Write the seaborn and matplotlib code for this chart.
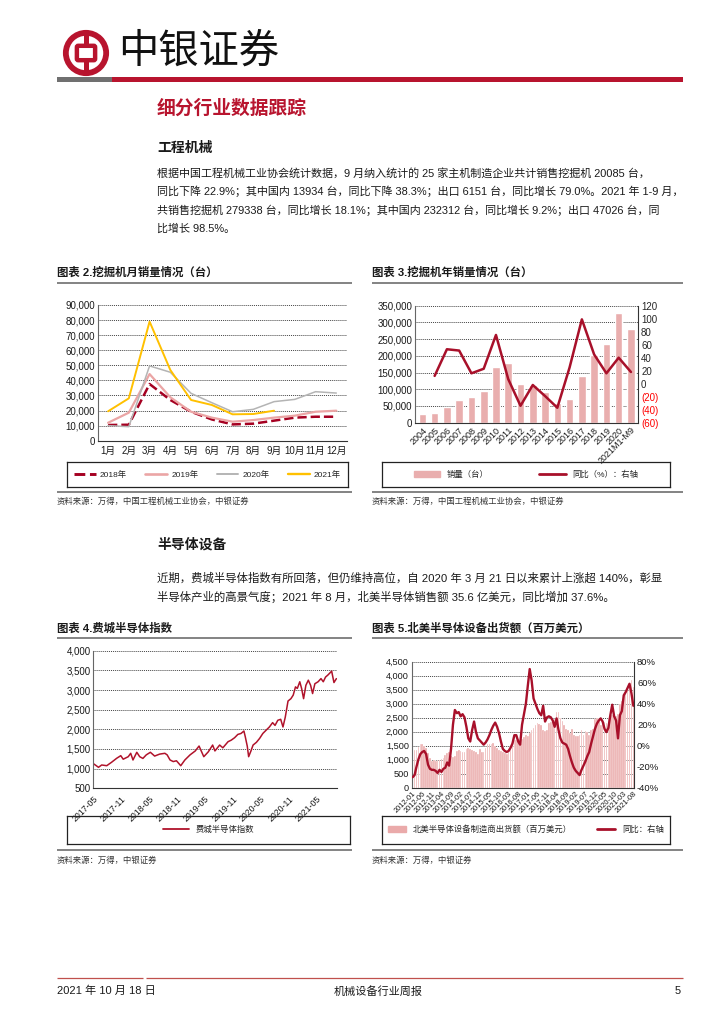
import numpy as np
import pandas as pd
import matplotlib
matplotlib.use('Agg')
import matplotlib.pyplot as plt
import seaborn as sns
from matplotlib.patches import Circle, FancyBboxPatch, Rectangle, Patch
from matplotlib.lines import Line2D
from matplotlib.ticker import FuncFormatter

# ---------------- data ----------------
months2 = ['1月', '2月', '3月', '4月', '5月', '6月', '7月', '8月', '9月', '10月', '11月', '12月']
sales2018 = [10400, 10600, 37600, 27000, 19200, 14100, 10800, 11300, 13300, 15300, 15900, 15900]
sales2019 = [11900, 18600, 44200, 28800, 19200, 15300, 12600, 13700, 15300, 16600, 19200, 19900]
sales2020 = [10000, 9300, 49600, 45400, 31400, 25200, 19200, 20800, 25900, 27400, 32500, 31600]
sales2021 = [19500, 28100, 79000, 46900, 27000, 23700, 17500, 17700, 19900]
years2 = ['2018年', '2019年', '2020年', '2021年']

years3 = ['2004', '2005', '2006', '2007', '2008', '2009', '2010', '2011', '2012', '2013',
          '2014', '2015', '2016', '2017', '2018', '2019', '2020', '2021M1-M9']
sales3 = [26000, 30000, 46000, 67000, 78000, 96000, 168000, 180000, 116000, 114000,
          93000, 58000, 72000, 140000, 203000, 236000, 327000, 279000]
yoy3_years = years3[1:]
yoy3 = [12, 53, 51, 16, 23, 75, 7, -34, -2, -19, -37, 25, 99, 45, 16, 40, 18]
ticks3_left = [0, 50000, 100000, 150000, 200000, 250000, 300000, 350000]
ticks3_right = [-60, -40, -20, 0, 20, 40, 60, 80, 100, 120]

dates4 = ['2017-05-05', '2017-06-04', '2017-06-25', '2017-07-28', '2017-08-28', '2017-10-01',
          '2017-10-28', '2017-11-13', '2017-12-16', '2018-01-01', '2018-01-16', '2018-02-10',
          '2018-03-01', '2018-03-22', '2018-04-13', '2018-05-10', '2018-06-07', '2018-07-10',
          '2018-08-13', '2018-08-28', '2018-09-16', '2018-10-07', '2018-10-28', '2018-11-25',
          '2018-12-22', '2019-01-25', '2019-02-28', '2019-03-25', '2019-04-25', '2019-05-25',
          '2019-06-22', '2019-07-07', '2019-08-07', '2019-08-28', '2019-10-01', '2019-10-22',
          '2019-11-13', '2019-12-04', '2019-12-25', '2020-01-13', '2020-01-22', '2020-02-04',
          '2020-02-13', '2020-02-28', '2020-03-13', '2020-04-04', '2020-04-25', '2020-05-16',
          '2020-06-07', '2020-06-28', '2020-07-19', '2020-08-04', '2020-08-22', '2020-09-10',
          '2020-09-25', '2020-10-10', '2020-10-28', '2020-11-16', '2020-12-01', '2020-12-16',
          '2020-12-28', '2021-01-13', '2021-01-25', '2021-02-07', '2021-02-22', '2021-03-10',
          '2021-03-25', '2021-04-07', '2021-04-22', '2021-05-13', '2021-06-01', '2021-06-16',
          '2021-07-01', '2021-07-16', '2021-08-10', '2021-08-25', '2021-09-10']
sox4 = [1118, 1034, 1093, 1075, 1160, 1263, 1330, 1240, 1304, 1390, 1220, 1416,
        1304, 1260, 1350, 1416, 1320, 1370, 1390, 1350, 1220, 1180, 1200, 1075,
        1220, 1350, 1450, 1575, 1304, 1430, 1600, 1450, 1600, 1530, 1685, 1725,
        1787, 1870, 1895, 1957, 1810, 1570, 1304, 1450, 1600, 1670, 1770, 1895,
        1980, 2060, 2170, 2100, 2230, 2255, 2060, 2310, 2720, 2780, 2870, 3080,
        3040, 3210, 3040, 2780, 3120, 3250, 3120, 2910, 3160, 3210, 3290, 3210,
        3330, 3380, 3480, 3190, 3290]
ticks4 = ['2017-05', '2017-11', '2018-05', '2018-11', '2019-05', '2019-11', '2020-05', '2020-11', '2021-05']

months5 = [p.strftime('%Y-%m') for p in pd.period_range('2012-01', '2021-08', freq='M')]
ship5 = [1300, 1350, 1330, 1450, 1550, 1560, 1500, 1420, 1250, 1050, 950, 1000,
         960, 980, 1000, 1010, 1050, 1180, 1240, 1260, 1150, 1100, 1150, 1300,
         1360, 1300, 1260, 1290, 1400, 1410, 1380, 1340, 1300, 1260, 1220, 1380,
         1290, 1280, 1420, 1560, 1550, 1560, 1580, 1500, 1420, 1350, 1300, 1280,
         1250, 1210, 1280, 1500, 1650, 1720, 1700, 1750, 1600, 1750, 1800, 1900,
         1850, 1950, 2050, 2150, 2250, 2300, 2280, 2250, 2050, 2030, 2050, 2300,
         2350, 2400, 2450, 2700, 2700, 2500, 2380, 2250, 2100, 2060, 1950, 2100,
         1900, 1850, 1830, 1880, 2050, 1900, 2030, 2000, 1900, 2050, 2100, 2450,
         2500, 2400, 2250, 2350, 2330, 2300, 2500, 2450, 2600, 2600, 2550, 2650,
         3000, 3100, 3300, 3450, 3600, 3720, 3860, 3600]
yoy5 = [-30, -28, -20, -13, -8, -6, -5, -8, -18, -22, -23, -23,
        -24, -26, -23, -25, -22, -21, -16, -19, -3, 20, 34, 31,
        32, 28, 30, 27, 18, 7, 4, 15, 23, 13, 7, 5,
        3, 1, 3, 6, 10, 15, 19, 22, 18, 12, 4, -3,
        -5, -6, -5, -2, 2, 10, 10, 4, 1, 20, 30, 40,
        57, 73, 62, 45, 40, 35, 31, 29, 38, 23, 27, 28,
        27, 24, 18, 26, 15, 7, 3, 2, 1, -3, -10, -16,
        -21, -24, -26, -28, -23, -19, -15, -10, -6, 2, 9, 16,
        21, 24, 26, 23, 16, 13, 17, 29, 39, 28, 24, 7,
        29, 33, 48, 51, 55, 59, 50, 38]

# ---------------- setup ----------------
sns.set_theme(style='white')
plt.rcParams['font.family'] = ['Liberation Sans', 'Noto Sans CJK SC', 'DejaVu Sans']
plt.rcParams['axes.unicode_minus'] = False

W, H = 724, 1024
fig = plt.figure(figsize=(W / 100, H / 100), dpi=100)

RED = '#B8142E'
DARKRED = '#A8102A'
PINK = '#E9AEAE'
TXT = '#1a1a1a'


def add_ax(l, t, r, b, **kw):
    return fig.add_axes([l / W, 1 - b / H, (r - l) / W, (b - t) / H], **kw)


def ftext(x, y, s, **kw):
    kw.setdefault('va', 'center')
    kw.setdefault('color', TXT)
    fig.text(x / W, 1 - y / H, s, **kw)


def hline(x0, x1, y, color, lw):
    fig.add_artist(Line2D([x0 / W, x1 / W], [1 - y / H, 1 - y / H], transform=fig.transFigure,
                          color=color, lw=lw, solid_capstyle='butt'))


def rect(x, y, w, h, color):
    fig.add_artist(Rectangle((x / W, 1 - (y + h) / H), w / W, h / H, transform=fig.transFigure,
                             color=color, lw=0))


def style_axes(ax, grid=True):
    for s in ['top', 'right']:
        ax.spines[s].set_visible(False)
    ax.spines['left'].set_color('#666666')
    ax.spines['bottom'].set_color('#333333')
    ax.spines['left'].set_linewidth(0.8)
    ax.spines['bottom'].set_linewidth(0.8)
    ax.tick_params(axis='both', labelsize=6.5, colors=TXT, length=0, pad=2)
    if grid:
        ax.yaxis.grid(True, color='#444444', linestyle=(0, (1, 1)), linewidth=0.7)
        ax.set_axisbelow(True)
    ax.set_xlabel('')
    ax.set_ylabel('')


def legend_box(l, t, r, b, handles, labels, **kw):
    lax = add_ax(l, t, r, b)
    lax.set_xticks([])
    lax.set_yticks([])
    for s in lax.spines.values():
        s.set_color('#222222')
        s.set_linewidth(0.9)
    lax.set_facecolor('none')
    lax.legend(handles, labels, loc='center', frameon=False, prop={'size': 6}, **kw)
    return lax


comma = FuncFormatter(lambda v, p: f'{int(round(v)):,}')

# ---------------- header ----------------
lax = add_ax(62, 29, 110, 77)
lax.set_xlim(-1, 1)
lax.set_ylim(-1, 1)
lax.set_aspect('equal')
lax.axis('off')
lax.add_patch(Circle((0, 0), 0.84, fill=False, ec=RED, lw=4.2))
lax.add_patch(FancyBboxPatch((-0.32, -0.24), 0.64, 0.48, boxstyle='round,pad=0.06',
                             fill=False, ec=RED, lw=3.2))
lax.plot([0, 0], [0.30, 0.84], color=RED, lw=3.6, solid_capstyle='butt')
lax.plot([0, 0], [-0.84, -0.30], color=RED, lw=3.6, solid_capstyle='butt')

ftext(118, 52, '中银证券', fontsize=29, color='#111111')
rect(57, 77, 55, 5, '#707070')
rect(112, 77, 571, 5, RED)

ftext(157, 109, '细分行业数据跟踪', fontsize=13.5, fontweight='bold', color=RED)
ftext(157, 148, '工程机械', fontsize=10, fontweight='bold')
para1 = ['根据中国工程机械工业协会统计数据，9 月纳入统计的 25 家主机制造企业共计销售挖掘机 20085 台，',
         '同比下降 22.9%；其中国内 13934 台，同比下降 38.3%；出口 6151 台，同比增长 79.0%。2021 年 1-9 月，',
         '共销售挖掘机 279338 台，同比增长 18.1%；其中国内 232312 台，同比增长 9.2%；出口 47026 台，同',
         '比增长 98.5%。']
for i, line in enumerate(para1):
    ftext(157, 173 + i * 18.5, line, fontsize=7.95)

ftext(157, 545, '半导体设备', fontsize=10, fontweight='bold')
para2 = ['近期，费城半导体指数有所回落，但仍维持高位，自 2020 年 3 月 21 日以来累计上涨超 140%，彰显',
         '半导体产业的高景气度；2021 年 8 月，北美半导体销售额 35.6 亿美元，同比增加 37.6%。']
for i, line in enumerate(para2):
    ftext(157, 578 + i * 19, line, fontsize=8.2)

# chart titles & separators
ftext(57, 272, '图表 2.挖掘机月销量情况（台）', fontsize=8.2, fontweight='bold')
ftext(372, 272, '图表 3.挖掘机年销量情况（台）', fontsize=8.2, fontweight='bold')
ftext(57, 628, '图表 4.费城半导体指数', fontsize=8.2, fontweight='bold')
ftext(372, 628, '图表 5.北美半导体设备出货额（百万美元）', fontsize=8.2, fontweight='bold')
for y in [283, 492, 638, 850]:
    hline(57, 352, y, '#7a7a7a', 1.3)
    hline(372, 683, y, '#7a7a7a', 1.3)
src_a = '资料来源：万得，中国工程机械工业协会，中银证券'
src_b = '资料来源：万得，中银证券'
ftext(57, 502, src_a, fontsize=6, color='#333333', style='italic')
ftext(372, 502, src_a, fontsize=6, color='#333333', style='italic')
ftext(57, 861, src_b, fontsize=6, color='#333333', style='italic')
ftext(372, 861, src_b, fontsize=6, color='#333333', style='italic')

# footer
hline(57, 143, 978, '#C0504D', 0.9)
hline(146, 683, 978, '#C0504D', 0.9)
ftext(57, 991, '2021 年 10 月 18 日', fontsize=8)
ftext(378, 991, '机械设备行业周报', fontsize=8, ha='center')
ftext(681, 991, '5', fontsize=8, ha='right')

# ---------------- chart 2 ----------------
series2 = [sales2018, sales2019, sales2020, sales2021]
rows = []
for yr, vals in zip(years2, series2):
    for m, v in zip(months2, vals):
        rows.append({'month': m, 'sales': v, 'year': yr})
df2 = pd.DataFrame(rows)
pal2 = {'2018年': '#A50021', '2019年': '#EBA5A5', '2020年': '#B4B4B4', '2021年': '#FFC000'}
lw2 = {'2018年': 1.8, '2019年': 1.6, '2020年': 1.1, '2021年': 1.4}
ax2 = add_ax(97.7, 305, 346.7, 440.7)
for yr in years2:
    sub = df2[df2['year'] == yr]
    sns.lineplot(data=sub, x='month', y='sales', ax=ax2, color=pal2[yr], lw=lw2[yr],
                 linestyle='--' if yr == '2018年' else '-', sort=False, legend=False)
ax2.set_xticks(range(len(months2)))
ax2.set_xticklabels(months2)
ax2.set_xlim(-0.5, len(months2) - 0.5)
ax2.set_ylim(0, 90000)
ax2.set_yticks(range(0, 90001, 10000))
ax2.yaxis.set_major_formatter(comma)
style_axes(ax2)
ax2.tick_params(axis='x', pad=4, labelsize=7)
ax2.tick_params(axis='y', labelsize=7)
ax2.set_xticks(np.arange(-0.5, len(months2), 1), minor=True)
ax2.tick_params(axis='x', which='minor', length=3, color='#333333', direction='out')
h2 = [Line2D([], [], color=pal2[y], lw=lw2[y] + 0.3, ls='--' if y == '2018年' else '-') for y in years2]
legend_box(67, 462, 348, 487, h2, years2, ncol=4, handlelength=2.6, handletextpad=0.5,
           columnspacing=2.2)

# ---------------- chart 3 ----------------
ax3 = add_ax(415, 305.7, 638.3, 422.7)
sns.barplot(x=years3, y=sales3, color=PINK, saturation=1, width=0.62, ax=ax3)
ax3.set_ylim(0, 350000)
ax3.set_yticks(ticks3_left)
ax3.yaxis.set_major_formatter(comma)
style_axes(ax3)
ax3.tick_params(axis='y', labelsize=7)
ax3.set_xticks(range(len(years3)))
ax3.set_xticklabels(years3, rotation=45, ha='right', rotation_mode='anchor', fontsize=6.5)
ax3r = ax3.twinx()
pos3 = [years3.index(y) for y in yoy3_years]
sns.lineplot(x=pos3, y=yoy3, ax=ax3r, color=DARKRED, lw=1.8, legend=False)
ax3r.set_ylim(-60, 120)
ax3r.set_yticks(ticks3_right)
ax3r.set_yticklabels([f'({-t})' if t < 0 else f'{t}' for t in ticks3_right])
for lab, t in zip(ax3r.get_yticklabels(), ticks3_right):
    if t < 0:
        lab.set_color('#FF0000')
ax3r.tick_params(axis='y', labelsize=7, length=0, pad=2)
for s in ['top', 'left', 'bottom']:
    ax3r.spines[s].set_visible(False)
ax3r.spines['right'].set_color('#333333')
ax3r.spines['right'].set_linewidth(0.8)
ax3r.set_ylabel('')
ax3.set_xlim(-0.6, len(years3) - 0.4)
h3 = [Patch(color=PINK), Line2D([], [], color=DARKRED, lw=2)]
legend_box(382, 462, 670, 487, h3, ['销量（台）', '同比（%）：右轴'], ncol=2,
           handlelength=3.2, columnspacing=6)

# ---------------- chart 4 ----------------
ax4 = add_ax(93.3, 650.7, 336.7, 788.3)
sns.lineplot(x=pd.to_datetime(dates4), y=sox4, ax=ax4, color='#B0132B', lw=1.1, legend=False)
ax4.set_xlim(pd.Timestamp('2017-05-01'), pd.Timestamp('2021-09-12'))
ax4.set_ylim(500, 4000)
ax4.set_yticks(range(500, 4001, 500))
ax4.yaxis.set_major_formatter(comma)
style_axes(ax4)
ax4.tick_params(axis='y', labelsize=7)
ax4.set_xticks(pd.to_datetime(ticks4))
ax4.set_xticklabels(ticks4, rotation=45, ha='right', rotation_mode='anchor', fontsize=6.3)
ax4.tick_params(axis='x', length=3, direction='out', color='#333333', pad=1.5)
legend_box(67, 816, 350, 844, [Line2D([], [], color='#B0132B', lw=1.3)], ['费城半导体指数'],
           handlelength=3.2)

# ---------------- chart 5 ----------------
ax5 = add_ax(411.7, 661.7, 634.3, 787.7)
sns.barplot(x=months5, y=ship5, color='#EAAAAA', saturation=1, width=0.85,
            edgecolor='white', linewidth=0.25, ax=ax5)
ax5.set_ylim(0, 4500)
ax5.set_yticks(range(0, 4501, 500))
ax5.yaxis.set_major_formatter(comma)
style_axes(ax5)
ax5.tick_params(axis='y', labelsize=6.6)
tick5 = list(range(0, len(months5), 5))
ax5.set_xticks(tick5)
ax5.set_xticklabels([months5[i] for i in tick5], rotation=45, ha='right',
                    rotation_mode='anchor', fontsize=5.3)
ax5r = ax5.twinx()
sns.lineplot(x=list(range(len(months5))), y=yoy5, ax=ax5r, color=DARKRED, lw=1.7, legend=False)
ax5r.set_ylim(-40, 80)
ax5r.set_yticks(range(-40, 81, 20))
ax5r.yaxis.set_major_formatter(FuncFormatter(lambda v, p: f'{int(v)}%'))
ax5r.tick_params(axis='y', labelsize=6.8, length=0, pad=2, colors=TXT)
for s in ['top', 'left', 'bottom']:
    ax5r.spines[s].set_visible(False)
ax5r.spines['right'].set_color('#333333')
ax5r.spines['right'].set_linewidth(0.8)
ax5r.set_ylabel('')
ax5.set_xlim(-0.5, len(months5) - 0.5)
h5 = [Patch(color='#EAAAAA'), Line2D([], [], color=DARKRED, lw=2)]
legend_box(382, 816, 670, 844, h5, ['北美半导体设备制造商出货额（百万美元）', '同比：右轴'], ncol=2,
           handlelength=2.2, columnspacing=3)

fig.savefig('out.png', dpi=100)
